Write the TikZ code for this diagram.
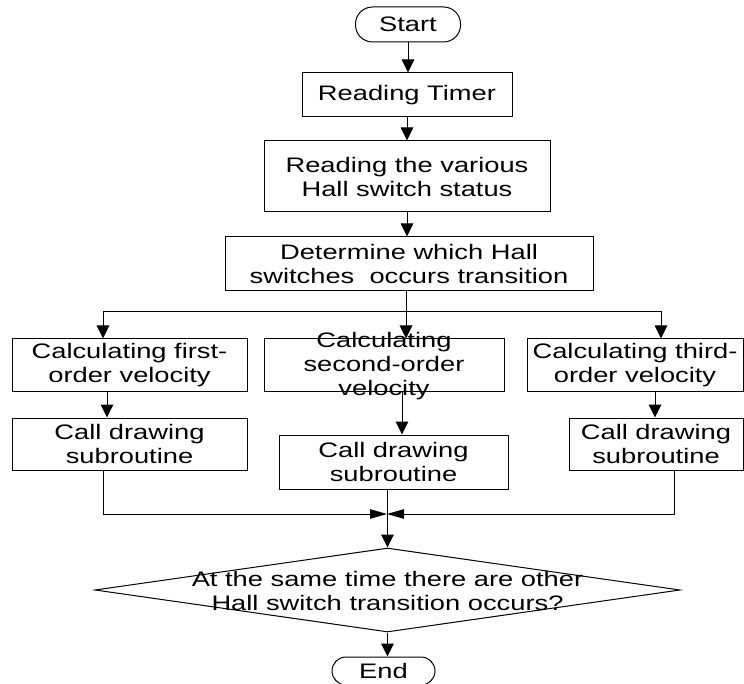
\documentclass[tikz,border=0pt]{standalone}
\usepackage{fontspec}
\setmainfont{Liberation Sans}[FakeStretch=1.3]
\usetikzlibrary{arrows.meta,shapes.geometric}
\begin{document}
\begin{tikzpicture}[x=1pt,y=-1pt,
  every node/.style={font=\fontsize{21}{24}\selectfont, align=center, inner sep=0pt},
  boxn/.style={draw, line width=1pt, fill=white, rectangle},
  termn/.style={draw, line width=1pt, fill=white, rectangle, rounded corners=17pt, minimum width=105pt, minimum height=35pt},
  va/.style={line width=1pt, -{Triangle[length=13pt,width=12.5pt]}},
  ha/.style={line width=1pt, -{Triangle[length=17pt,width=9.5pt]}},
  ln/.style={line width=1pt}]
\useasboundingbox (0,0) rectangle (744,684);

\node[termn] (start) at (408,24.5) {Start};
\node[boxn, minimum width=210pt, minimum height=44pt] (timer) at (407,95) {Reading Timer};
\node[boxn, minimum width=286pt, minimum height=71pt] (read) at (407,176.5) {Reading the various\\Hall switch status};
\node[boxn, minimum width=368pt, minimum height=54pt] (det) at (409,264) {Determine which Hall\\switches~\ occurs transition};

\node[boxn, minimum width=235pt, minimum height=52pt] (c1) at (129.5,365) {Calculating first-\\order velocity};
\node[boxn, minimum width=240pt, minimum height=52pt] (c2) at (384,365) {};
\node (c2t) at (384,366) {\fontsize{21}{23}\selectfont Calculating\\second-order\\velocity};
\node[boxn, minimum width=216pt, minimum height=52pt] (c3) at (635,365) {Calculating third-\\order velocity};

\node[boxn, minimum width=235pt, minimum height=52pt] (d1) at (129.5,444) {Call drawing\\subroutine};
\node[boxn, minimum width=229pt, minimum height=54pt] (d2) at (393.5,462) {Call drawing\\subroutine};
\node[boxn, minimum width=174pt, minimum height=52pt] (d3) at (656,444) {Call drawing\\subroutine};

\node[draw, line width=1pt, fill=white, diamond, minimum width=585pt, minimum height=84pt] (dec) at (387.5,590) {};
\node (dect) at (387.5,591) {At the same time there are other\\Hall switch transition occurs?};

\node[termn, minimum width=103pt, minimum height=28pt, rounded corners=14pt] (endn) at (383.5,671) {End};

\coordinate (br) at (406,312);
\coordinate (mg) at (387,514);

\draw[va] (start.south) -- (start.south |- timer.north);
\draw[va] (timer.south) -- (timer.south |- read.north);
\draw[va] (read.south) -- (read.south |- det.north);
\draw[va] ([xshift=-3pt]det.south) -- ([xshift=22pt]c2.north);
\draw[va] (br) -| ([xshift=-26.5pt]c1.north);
\draw[va] (br) -| ([xshift=26pt]c3.north);

\draw[va] ([xshift=-22.5pt]c1.south) -- ([xshift=-22.5pt]d1.north);
\draw[va] ([xshift=18pt]c2.south) -- ([xshift=8.5pt]d2.north);
\draw[va] ([xshift=20pt]c3.south) -- ([xshift=-1pt]d3.north);

\draw[ha] ([xshift=-26.5pt]d1.south) |- (mg);
\draw[ha] ([xshift=18pt]d3.south) |- (mg);
\draw[va] ([xshift=-6pt]d2.south) -- (dec.north);
\draw[va] (dec.south) -- (dec.south |- endn.north);
\end{tikzpicture}
\end{document}
